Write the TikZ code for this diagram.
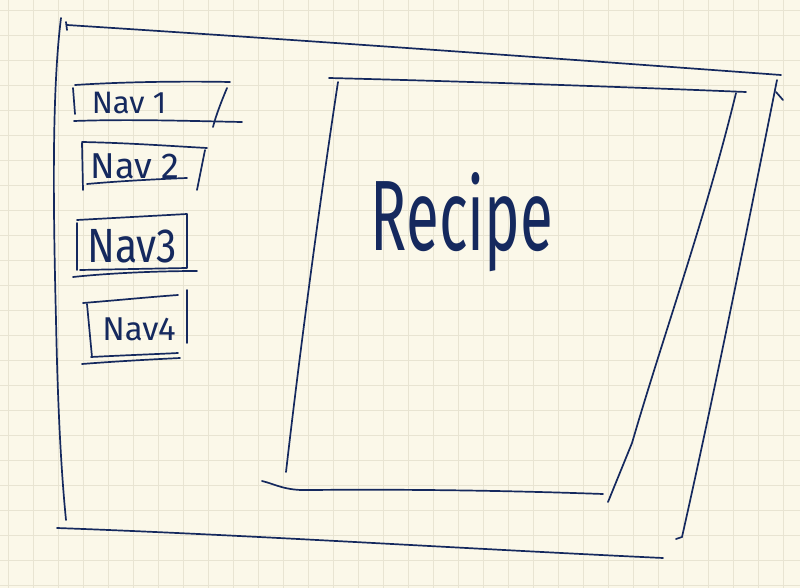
\documentclass[tikz,border=0pt]{standalone}
\usepackage{fontspec}
\setmainfont{Fira Sans}
\begin{document}
\begin{tikzpicture}[x=1pt,y=-1pt,
  ink/.style={draw=inkc,line width=1.7pt,line cap=round,line join=round},
  lbl/.style={text=inkc,inner sep=0pt,anchor=center}]
\definecolor{paper}{HTML}{FBF8E9}
\definecolor{gridc}{HTML}{E8E4D2}
\definecolor{inkc}{HTML}{15295E}
\useasboundingbox (0,0) rectangle (800,588);
\fill[paper] (0,0) rectangle (800,588);
\foreach \i in {0,...,32} {\draw[gridc,line width=0.6pt] (\i*25+8,0) -- (\i*25+8,588);}
\foreach \j in {0,...,24} {\draw[gridc,line width=0.6pt] (0,\j*25+10) -- (800,\j*25+10);}
% outer frame
\draw[ink] (61,18) .. controls (52,90) and (53,200) .. (56,320) .. controls (58,420) and (62,480) .. (66,520);
\draw[ink] (66,22) -- (67,30);
\draw[ink] (67,25) .. controls (300,40) and (550,58) .. (781,75);
\draw[ink] (777,80) .. controls (745,240) and (715,390) .. (682,537) -- (676,539);
\draw[ink] (776,92) -- (783,100);
\draw[ink] (57,528) .. controls (250,535) and (450,548) .. (663,558);
% content box
\draw[ink] (329,78) .. controls (450,81) and (600,86) .. (746,92);
\draw[ink] (338,82) .. controls (320,200) and (300,350) .. (286,472);
\draw[ink] (736,93) .. controls (705,220) and (665,330) .. (632,443) -- (608,502);
\draw[ink] (262,481) .. controls (275,484) and (285,491) .. (310,490) .. controls (420,489) and (520,491) .. (603,494);
\node[lbl,font=\fontsize{100}{100}\selectfont,xscale=0.6] (recipe) at (462,222) {Recipe};
% nav 1
\draw[ink] (75,85) .. controls (120,82) and (180,81) .. (230,82);
\draw[ink] (73,88) -- (75,114);
\draw[ink] (227,88) .. controls (222,100) and (216,115) .. (213,127);
\draw[ink] (74,121) .. controls (130,119) and (190,121) .. (242,122);
\node[lbl,font=\fontsize{31}{31}\selectfont] (nav1) at (129,103) {Nav 1};
% nav 2
\draw[ink] (82,142) .. controls (130,143) and (170,146) .. (207,148);
\draw[ink] (82,143) -- (83,190);
\draw[ink] (205,150) -- (197,190);
\draw[ink] (87,184) .. controls (120,181) and (160,179) .. (187,178);
\node[lbl,font=\fontsize{36}{36}\selectfont] (nav2) at (135,166) {Nav 2};
% nav 3
\draw[ink] (77,220) -- (187,214) -- (187,268) -- (80,270);
\draw[ink] (77,223) -- (77,270);
\draw[ink] (73,277) .. controls (110,273) and (160,271) .. (197,271);
\node[lbl,font=\fontsize{48}{48}\selectfont,xscale=0.85] (nav3) at (132,246) {Nav3};
% nav 4
\draw[ink] (83,303) .. controls (120,300) and (150,297) .. (178,295);
\draw[ink] (87,304) -- (92,357);
\draw[ink] (187,290) -- (187,343);
\draw[ink] (91,357) .. controls (130,355) and (160,354) .. (178,353);
\draw[ink] (82,364) .. controls (120,361) and (160,359) .. (180,358);
\node[lbl,font=\fontsize{33}{33}\selectfont] (nav4) at (139,329) {Nav4};
\end{tikzpicture}
\end{document}
